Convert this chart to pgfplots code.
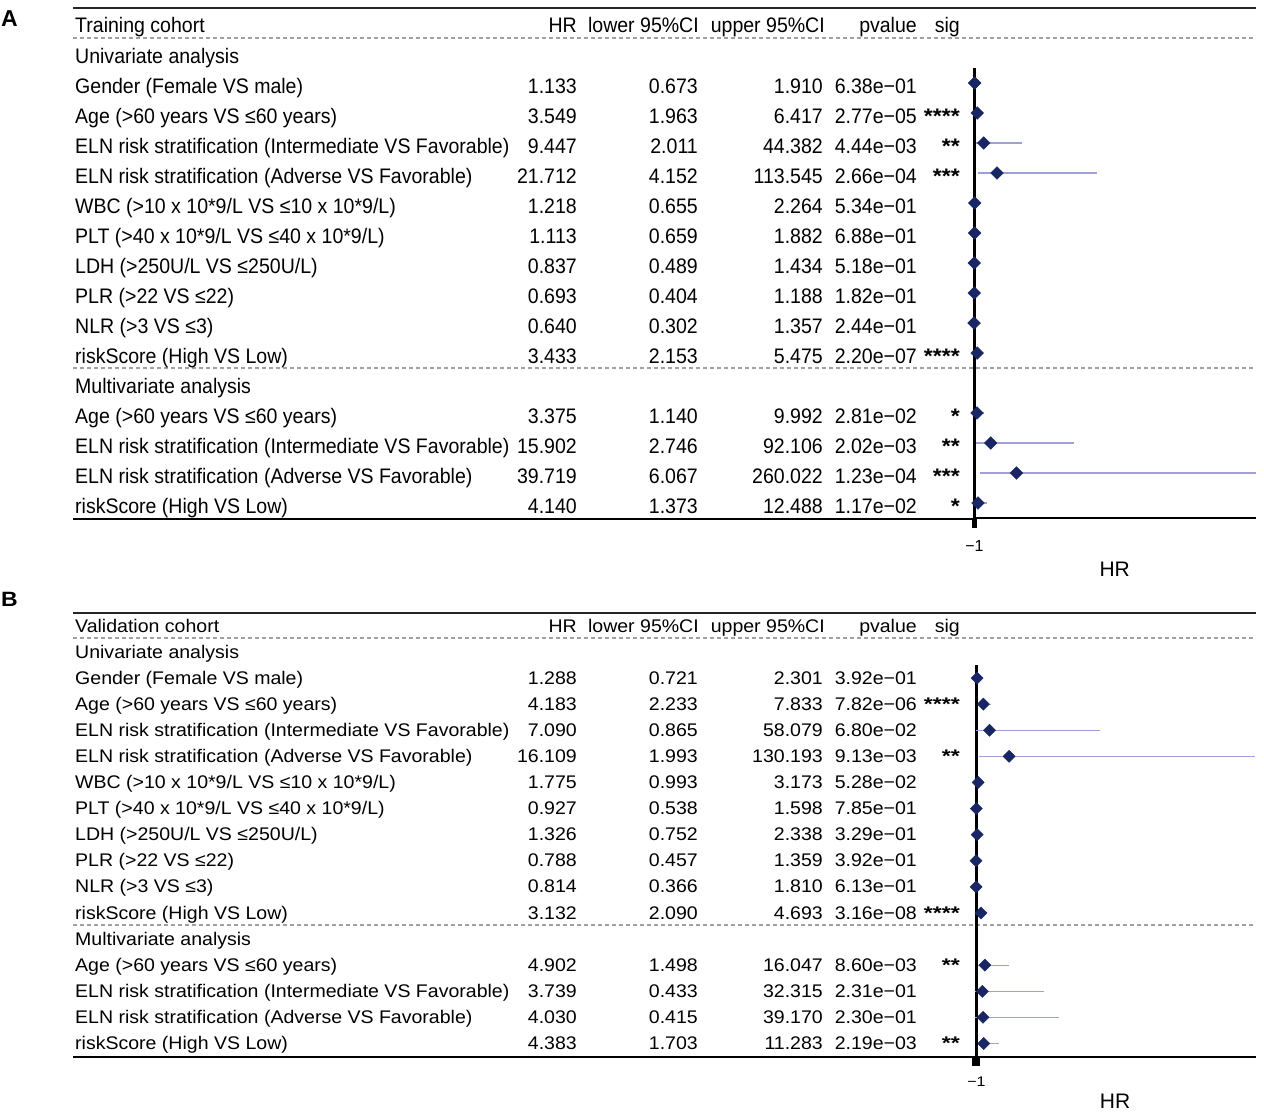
\documentclass[border=0pt]{standalone}
\usepackage{fontspec}
\setmainfont{Liberation Sans}
\usepackage{graphicx}
\usepackage{pgfplots}
\usepackage{pgfplotstable}
\pgfplotsset{compat=1.18}
\definecolor{navy}{RGB}{24,38,100}
\definecolor{cicol}{RGB}{160,160,215}
\definecolor{dashc}{RGB}{160,160,160}

% Training cohort: pos counted from bottom (15 = Gender ... 1 = riskScore multivariate)
\pgfplotstableread{
pos hr lo up
15 1.133 0.673 1.910
14 3.549 1.963 6.417
13 9.447 2.011 44.382
12 21.712 4.152 113.545
11 1.218 0.655 2.264
10 1.113 0.659 1.882
9 0.837 0.489 1.434
8 0.693 0.404 1.188
7 0.640 0.302 1.357
6 3.433 2.153 5.475
4 3.375 1.140 9.992
3 15.902 2.746 92.106
2 39.719 6.067 260.022
1 4.140 1.373 12.488
}\dataA
% Validation cohort
\pgfplotstableread{
pos hr lo up
15 1.288 0.721 2.301
14 4.183 2.233 7.833
13 7.090 0.865 58.079
12 16.109 1.993 130.193
11 1.775 0.993 3.173
10 0.927 0.538 1.598
9 1.326 0.752 2.338
8 0.788 0.457 1.359
7 0.814 0.366 1.810
6 3.132 2.090 4.693
4 4.902 1.498 16.047
3 3.739 0.433 32.315
2 4.030 0.415 39.170
1 4.383 1.703 11.283
}\dataB

\newcommand\ys{1}
\newcommand\sx[1]{\scalebox{0.93}[\ys]{#1}}
\newcommand\st[1]{\scalebox{1.1}[\ys]{\bfseries #1}}
\newcommand\trow[7]{%
  \node[anchor=base west] at (75,#1) {\sx{#2}};
  \node[anchor=base east] at (577,#1) {\sx{#3}};
  \node[anchor=base east] at (698,#1) {\sx{#4}};
  \node[anchor=base east] at (823,#1) {\sx{#5}};
  \node[anchor=base east] at (917,#1) {\sx{#6}};
  \node[anchor=base east] at (960,#1) {\st{#7}};
}
\newcommand\hrow[2]{%
  \node[anchor=base west] at (75,#1) {\sx{#2}};
  \node[anchor=base east] at (577,#1) {\sx{HR}};
  \node[anchor=base east] at (699,#1) {\sx{lower 95\%CI}};
  \node[anchor=base east] at (825,#1) {\sx{upper 95\%CI}};
  \node[anchor=base east] at (917,#1) {\sx{pvalue}};
  \node[anchor=base east] at (960,#1) {\sx{sig}};
}

\pgfplotsset{forest/.style={
  scale only axis, anchor=north west, clip=false,
  xmin=0, ymin=0.5, ymax=15.5,
  axis x line=bottom, axis y line=none, ytick=\empty,
  x axis line style={-, line width=2pt, black},
  every outer x axis line/.append style={-},
  xtick={1}, xticklabels={},
  tick align=outside,
  xlabel={HR},
  every axis x label/.style={at={(axis description cs:0.5,0)}, anchor=center,
     font=\fontsize{21}{21}\selectfont},
}}

\begin{document}
\begin{tikzpicture}[x=1pt,y=-1pt,
  every node/.style={inner sep=0pt, font=\fontsize{21}{21}\selectfont}]
\useasboundingbox (0,0) rectangle (1264,1114);

% ---------------- Panel A ----------------
\node[anchor=base west, font=\bfseries\fontsize{23}{23}\selectfont] at (1,26) {A};
\draw[line width=2pt, black!85] (73,7.5) -- (1256,7.5);
\draw[dashc, line width=1.3pt, dash pattern=on 4pt off 3pt] (73,38) -- (1253,38);
\draw[dashc, line width=1.3pt, dash pattern=on 4pt off 3pt] (73,368) -- (1253,368);
\draw[line width=2pt, black] (73,518.5) -- (974,518.5);

\hrow{32}{Training cohort}
\node[anchor=base west] at (75,63) {\sx{Univariate analysis}};
\trow{93}{Gender (Female VS male)}{1.133}{0.673}{1.910}{6.38e−01}{}
\trow{123}{Age (>60 years VS ≤60 years)}{3.549}{1.963}{6.417}{2.77e−05}{****}
\trow{153}{ELN risk stratification (Intermediate VS Favorable)}{9.447}{2.011}{44.382}{4.44e−03}{**}
\trow{183}{ELN risk stratification (Adverse VS Favorable)}{21.712}{4.152}{113.545}{2.66e−04}{***}
\trow{213}{WBC (>10 x 10*9/L VS ≤10 x 10*9/L)}{1.218}{0.655}{2.264}{5.34e−01}{}
\trow{243}{PLT (>40 x 10*9/L VS ≤40 x 10*9/L)}{1.113}{0.659}{1.882}{6.88e−01}{}
\trow{273}{LDH (>250U/L VS ≤250U/L)}{0.837}{0.489}{1.434}{5.18e−01}{}
\trow{303}{PLR (>22 VS ≤22)}{0.693}{0.404}{1.188}{1.82e−01}{}
\trow{333}{NLR (>3 VS ≤3)}{0.640}{0.302}{1.357}{2.44e−01}{}
\trow{363}{riskScore (High VS Low)}{3.433}{2.153}{5.475}{2.20e−07}{****}
\node[anchor=base west] at (75,393) {\sx{Multivariate analysis}};
\trow{423}{Age (>60 years VS ≤60 years)}{3.375}{1.140}{9.992}{2.81e−02}{*}
\trow{453}{ELN risk stratification (Intermediate VS Favorable)}{15.902}{2.746}{92.106}{2.02e−03}{**}
\trow{483}{ELN risk stratification (Adverse VS Favorable)}{39.719}{6.067}{260.022}{1.23e−04}{***}
\trow{513}{riskScore (High VS Low)}{4.140}{1.373}{12.488}{1.17e−02}{*}

\coordinate (axA) at (973.4,68);
\begin{axis}[forest, at={(axA)}, width=282.6pt, height=450pt, xmax=260,
  major tick length=10pt, xtick style={line width=5pt, black},
  every axis x label/.append style={yshift=-51pt}]
\draw[black, line width=2.5pt] (axis cs:1,0.5) -- (axis cs:1,15.5);
\node[font=\fontsize{16}{16}\selectfont, anchor=center, yshift=-28pt] at (axis cs:1,0.5) {−1};
\addplot[only marks, mark=none, forget plot,
  error bars/.cd, x dir=both, x explicit, error mark=none,
  error bar style={draw=cicol, line width=1.3pt}]
  table[x=hr, y=pos, x error plus expr=\thisrow{up}-\thisrow{hr},
        x error minus expr=\thisrow{hr}-\thisrow{lo}] {\dataA};
\addplot[only marks, mark=square*, mark size=4.5pt,
  mark options={rotate=45, fill=navy, draw=navy}]
  table[x=hr, y=pos] {\dataA};
\end{axis}

% ---------------- Panel B ----------------
\renewcommand\ys{0.87}
\node[anchor=base west, font=\bfseries\fontsize{23}{23}\selectfont] at (1,606) {\scalebox{1}[0.9]{B}};
\draw[line width=2pt, black!85] (73,612.5) -- (1256,612.5);
\draw[dashc, line width=1.3pt, dash pattern=on 4pt off 3pt] (73,638) -- (1253,638);
\draw[dashc, line width=1.3pt, dash pattern=on 4pt off 3pt] (73,925) -- (1253,925);
\draw[line width=2pt, black] (73,1056.5) -- (976,1056.5);

\hrow{632}{Validation cohort}
\node[anchor=base west] at (75,658) {\sx{Univariate analysis}};
\trow{684.1}{Gender (Female VS male)}{1.288}{0.721}{2.301}{3.92e−01}{}
\trow{710.2}{Age (>60 years VS ≤60 years)}{4.183}{2.233}{7.833}{7.82e−06}{****}
\trow{736.3}{ELN risk stratification (Intermediate VS Favorable)}{7.090}{0.865}{58.079}{6.80e−02}{}
\trow{762.4}{ELN risk stratification (Adverse VS Favorable)}{16.109}{1.993}{130.193}{9.13e−03}{**}
\trow{788.5}{WBC (>10 x 10*9/L VS ≤10 x 10*9/L)}{1.775}{0.993}{3.173}{5.28e−02}{}
\trow{814.6}{PLT (>40 x 10*9/L VS ≤40 x 10*9/L)}{0.927}{0.538}{1.598}{7.85e−01}{}
\trow{840.7}{LDH (>250U/L VS ≤250U/L)}{1.326}{0.752}{2.338}{3.29e−01}{}
\trow{866.8}{PLR (>22 VS ≤22)}{0.788}{0.457}{1.359}{3.92e−01}{}
\trow{892.9}{NLR (>3 VS ≤3)}{0.814}{0.366}{1.810}{6.13e−01}{}
\trow{919}{riskScore (High VS Low)}{3.132}{2.090}{4.693}{3.16e−08}{****}
\node[anchor=base west] at (75,945.1) {\sx{Multivariate analysis}};
\trow{971.2}{Age (>60 years VS ≤60 years)}{4.902}{1.498}{16.047}{8.60e−03}{**}
\trow{997.3}{ELN risk stratification (Intermediate VS Favorable)}{3.739}{0.433}{32.315}{2.31e−01}{}
\trow{1023.4}{ELN risk stratification (Adverse VS Favorable)}{4.030}{0.415}{39.170}{2.30e−01}{}
\trow{1049.5}{riskScore (High VS Low)}{4.383}{1.703}{11.283}{2.19e−03}{**}

\coordinate (axB) at (974.3,665);
\begin{axis}[forest, at={(axB)}, width=281.7pt, height=391.5pt, xmax=130.6,
  major tick length=9pt, xtick style={line width=8pt, black},
  every axis x label/.append style={yshift=-45pt}]
\draw[black, line width=2.5pt] (axis cs:1,0.5) -- (axis cs:1,15.5);
\node[font=\fontsize{16}{16}\selectfont, anchor=center, yshift=-25pt] at (axis cs:1,0.5) {\scalebox{1}[0.87]{−1}};
\addplot[only marks, mark=none, forget plot,
  error bars/.cd, x dir=both, x explicit, error mark=none,
  error bar style={draw=cicol, line width=1.3pt}]
  table[x=hr, y=pos, x error plus expr=\thisrow{up}-\thisrow{hr},
        x error minus expr=\thisrow{hr}-\thisrow{lo}] {\dataB};
\addplot[only marks, mark=square*, mark size=4.3pt,
  mark options={rotate=45, fill=navy, draw=navy}]
  table[x=hr, y=pos] {\dataB};
\end{axis}
\end{tikzpicture}
\end{document}
